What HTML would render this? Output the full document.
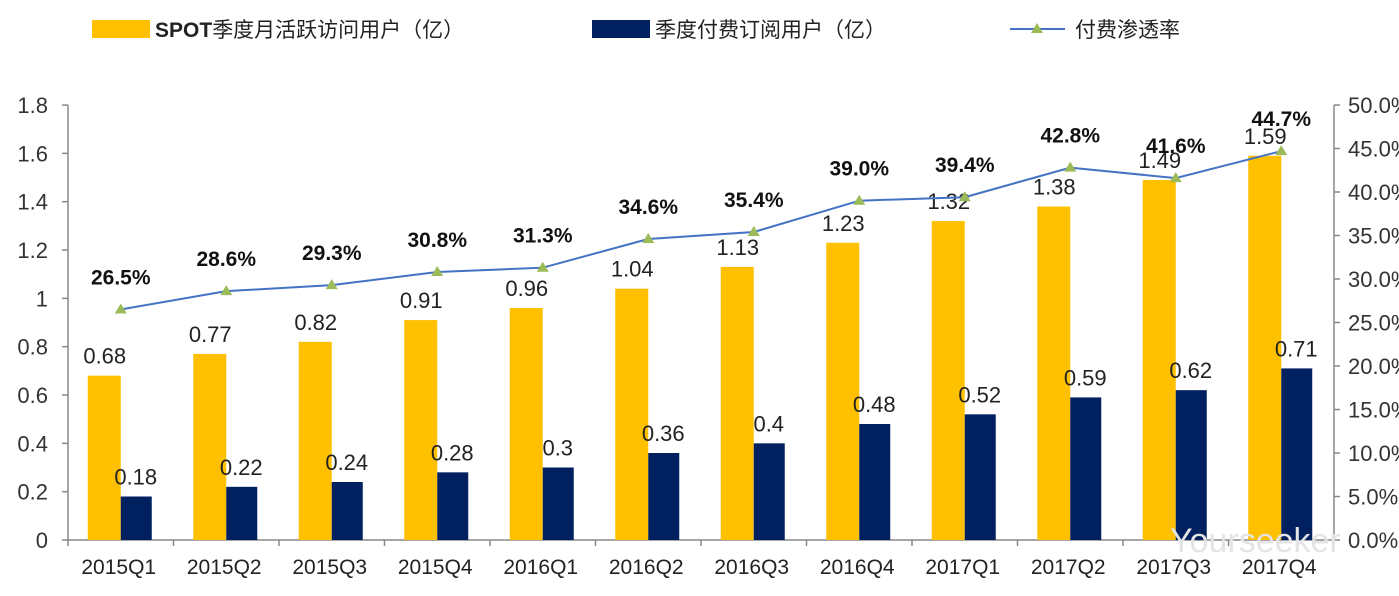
<!DOCTYPE html>
<html><head><meta charset="utf-8"><style>
body{margin:0;background:#fff;}
svg{display:block;font-family:"Liberation Sans","Noto Sans CJK SC",sans-serif;}
</style></head><body>
<svg width="1399" height="596" viewBox="0 0 1399 596" xmlns="http://www.w3.org/2000/svg">
<rect x="92" y="20" width="58" height="18" fill="#FFC000"/>
<text x="155" y="37" font-size="21" fill="#222"><tspan font-weight="bold">SPOT</tspan>季度月活跃访问用户（亿）</text>
<rect x="592" y="20" width="58" height="18" fill="#002060"/>
<text x="655" y="37" font-size="21" fill="#222">季度付费订阅用户（亿）</text>
<line x1="1010" y1="29" x2="1065" y2="29" stroke="#4472C4" stroke-width="2"/>
<polygon points="1037,23 1043,33 1031,33" fill="#9BBB59"/>
<text x="1075" y="37" font-size="21" fill="#222">付费渗透率</text>
<g stroke="#888" stroke-width="1.5" fill="none">
<line x1="68" y1="105" x2="68" y2="540"/>
<line x1="68" y1="540" x2="1334" y2="540"/>
<line x1="1334" y1="105" x2="1334" y2="540"/>
</g>
<g stroke="#888" stroke-width="1.5" id="ticks"></g>
<g id="g"></g>
<text x="1170" y="552" font-size="34" fill="#e4e4e4">Yourseeker</text>
<script>
var ns="http://www.w3.org/2000/svg";
function el(t,a,p,txt){var e=document.createElementNS(ns,t);for(var k in a)e.setAttribute(k,a[k]);if(txt!=null)e.textContent=txt;(p||document.getElementById('g')).appendChild(e);return e;}
var cats=["2015Q1","2015Q2","2015Q3","2015Q4","2016Q1","2016Q2","2016Q3","2016Q4","2017Q1","2017Q2","2017Q3","2017Q4"];
var y1=[0.68,0.77,0.82,0.91,0.96,1.04,1.13,1.23,1.32,1.38,1.49,1.59];
var y2=[0.18,0.22,0.24,0.28,0.3,0.36,0.4,0.48,0.52,0.59,0.62,0.71];
var ys=["0.18","0.22","0.24","0.28","0.3","0.36","0.4","0.48","0.52","0.59","0.62","0.71"];
var p=[26.5,28.6,29.3,30.8,31.3,34.6,35.4,39.0,39.4,42.8,41.6,44.7];
function Y(v){return 540-v/1.8*435;}
function P(v){return 540-v*8.7;}
var tk=document.getElementById('ticks');
for(var i=0;i<=12;i++){var x=68+105.5*i;el('line',{x1:x,y1:540,x2:x,y2:546},tk);}
for(var i=0;i<=9;i++){var v=i*0.2;var y=540-i*48.33;el('line',{x1:62,y1:y,x2:68,y2:y},tk);
el('text',{x:48,y:y+8,'font-size':22,fill:'#333','text-anchor':'end'},null,(i==0?"0":i==5?"1":v.toFixed(1)));}
for(var i=0;i<=10;i++){var y=540-i*43.5;el('line',{x1:1334,y1:y,x2:1340,y2:y},tk);
el('text',{x:1348,y:y+8,'font-size':22,fill:'#333'},null,(i*5).toFixed(1)+"%");}
var pts=[];
for(var i=0;i<12;i++){var c=120.75+105.5*i;
el('rect',{x:c-33,y:Y(y1[i]),width:33,height:540-Y(y1[i]),fill:'#FFC000'});
el('rect',{x:c,y:Y(y2[i]),width:31,height:540-Y(y2[i]),fill:'#002060'});
el('text',{x:c-16,y:Y(y1[i])-12,'font-size':22,fill:'#222','text-anchor':'middle'},null,y1[i].toFixed(2));
el('text',{x:c+15,y:Y(y2[i])-12,'font-size':22,fill:'#222','text-anchor':'middle'},null,ys[i]);
el('text',{x:c-2,y:574,'font-size':21,fill:'#222','text-anchor':'middle'},null,cats[i]);
pts.push(c+','+P(p[i]));}
el('polyline',{points:pts.join(' '),fill:'none',stroke:'#4472C4','stroke-width':2});
for(var i=0;i<12;i++){var c=120.75+105.5*i,y=P(p[i]);
el('polygon',{points:(c)+','+(y-6)+' '+(c+6)+','+(y+4)+' '+(c-6)+','+(y+4),fill:'#9BBB59'});
el('text',{x:c,y:y-25,'font-size':21,'font-weight':'bold',fill:'#111','text-anchor':'middle'},null,p[i].toFixed(1)+"%");}
</script>
</svg>
</body></html>
